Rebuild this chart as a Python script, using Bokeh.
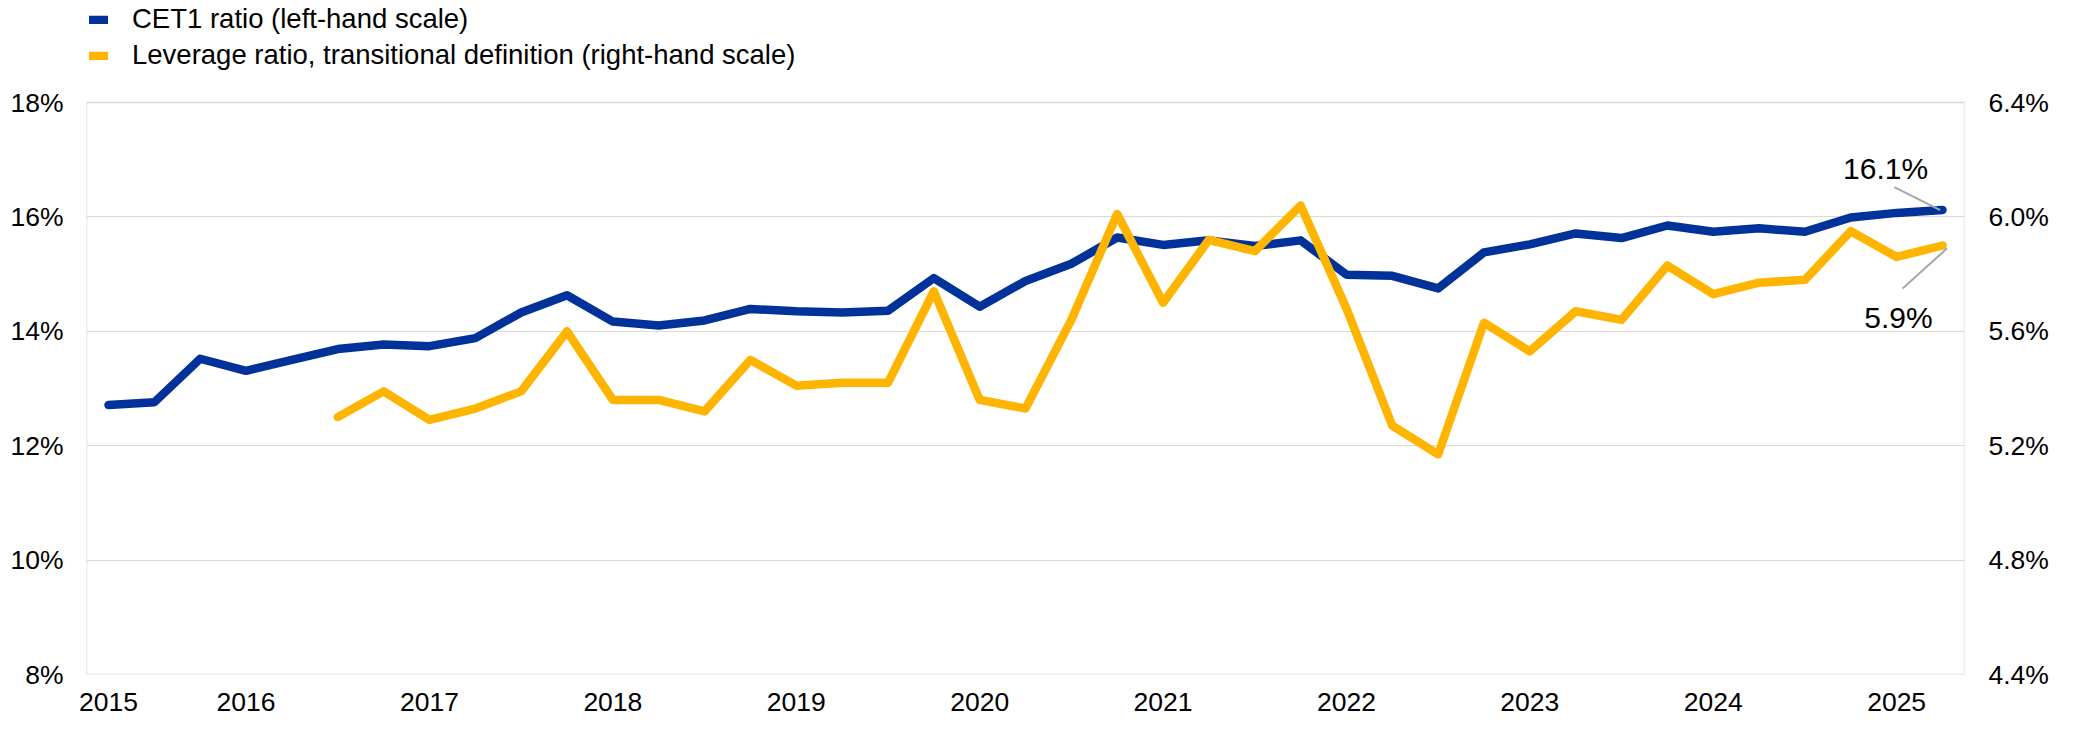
import math
from bokeh.plotting import figure
from bokeh.models import (Range1d, LinearAxis, FixedTicker, Legend, LegendItem,
                          Label, ColumnDataSource)
from bokeh.embed import file_html
from bokeh.resources import INLINE

# ---------------- data ----------------
# quarterly observations, 2015-Q2 ... 2025-Q2
quarters = [f"{2015 + (m // 4)}-Q{m % 4 + 1}" for m in range(1, 42)]

cet1_ratio = [12.71, 12.76, 13.52, 13.31, 13.50, 13.69, 13.77, 13.74, 13.88, 14.33,
              14.63, 14.17, 14.10, 14.19, 14.39, 14.35, 14.33, 14.36, 14.93, 14.43,
              14.88, 15.18, 15.64, 15.51, 15.59, 15.49, 15.59, 14.99, 14.97, 14.75,
              15.38, 15.52, 15.71, 15.63, 15.85, 15.74, 15.80, 15.74, 15.99, 16.07,
              16.12]

nan = float("nan")
leverage_ratio = [nan, nan, nan, nan, nan, 5.30, 5.39, 5.29, 5.33, 5.39,
                  5.60, 5.36, 5.36, 5.32, 5.50, 5.41, 5.42, 5.42, 5.74, 5.36,
                  5.33, 5.64, 6.01, 5.70, 5.92, 5.88, 6.04, 5.68, 5.27, 5.17,
                  5.63, 5.53, 5.67, 5.64, 5.83, 5.73, 5.77, 5.78, 5.95, 5.86,
                  5.90]

year_labels = ["2015", "2016", "2017", "2018", "2019", "2020", "2021", "2022",
               "2023", "2024", "2025"]
left_ticks = [8, 10, 12, 14, 16, 18]
left_tick_labels = ["8%", "10%", "12%", "14%", "16%", "18%"]
right_ticks = [4.4, 4.8, 5.2, 5.6, 6.0, 6.4]
right_tick_labels = ["4.4%", "4.8%", "5.2%", "5.6%", "6.0%", "6.4%"]

series_names = ["CET1 ratio (left-hand scale)",
                "Leverage ratio, transitional definition (right-hand scale)"]

# ---------------- styles / layout ----------------
BLUE = "#003299"
YELLOW = "#FFB400"
GRID = "#D9D9D9"
FONT = "Liberation Sans"

BOX_H = 572         # height of the value box in px
LEGEND_SPACE = 102  # px above the box reserved for the legend (inside the frame)

x = list(range(len(quarters)))
src = ColumnDataSource(dict(x=x, cet1=cet1_ratio, lev=leverage_ratio))

# x tick positions: first observation, then each first quarter of a year
tick_pos = []
for lab in year_labels:
    if lab == year_labels[0]:
        tick_pos.append(0)
    else:
        tick_pos.append(quarters.index(f"{lab}-Q1"))

y0, y1 = left_ticks[0], left_ticks[-1]
r0, r1 = right_ticks[0], right_ticks[-1]
extra = LEGEND_SPACE / (BOX_H / (y1 - y0))          # left-scale units above box
extra_r = extra * (r1 - r0) / (y1 - y0)

x_lo, x_hi = -0.48, len(quarters) - 1 + 0.48

p = figure(frame_width=1878, frame_height=BOX_H + LEGEND_SPACE,
           x_range=Range1d(x_lo, x_hi),
           y_range=Range1d(y0, y1 + extra),
           output_backend="svg", toolbar_location=None,
           min_border_left=86, min_border_right=99,
           min_border_top=0, min_border_bottom=43,
           background_fill_color="white", border_fill_color="white",
           outline_line_color=None)
p.extra_y_ranges = {"right": Range1d(r0, r1 + extra_r)}

# axes
xa = p.xaxis[0]
xa.ticker = FixedTicker(ticks=tick_pos)
xa.major_label_overrides = {t: l for t, l in zip(tick_pos, year_labels)}
ya = p.yaxis[0]
ya.ticker = FixedTicker(ticks=left_ticks)
ya.major_label_overrides = {t: l for t, l in zip(left_ticks, left_tick_labels)}
ra = LinearAxis(y_range_name="right", ticker=FixedTicker(ticks=right_ticks))
ra.major_label_overrides = {t: l for t, l in zip(right_ticks, right_tick_labels)}
p.add_layout(ra, "right")

for ax, standoff in ((xa, 18), (ya, 23), (ra, 24)):
    ax.axis_line_color = None
    ax.major_tick_line_color = None
    ax.minor_tick_line_color = None
    ax.major_tick_out = 0
    ax.major_tick_in = 0
    ax.minor_tick_out = 0
    ax.major_label_standoff = standoff
    ax.major_label_text_font = FONT
    ax.major_label_text_font_size = "26.5px"
    ax.major_label_text_color = "black"

p.xgrid.visible = False
p.ygrid.ticker = FixedTicker(ticks=left_ticks[1:-1])
p.ygrid.grid_line_color = GRID
p.ygrid.grid_line_width = 1.2

# box around the value area (derived from the axis extents)
p.segment(x0=[x_lo, x_lo, x_lo, x_hi], y0=[y0, y1, y0, y0],
          x1=[x_hi, x_hi, x_lo, x_hi], y1=[y0, y1, y1, y1],
          line_color=GRID, line_width=1.5)

# lines
l1 = p.line("x", "cet1", source=src, line_color=BLUE, line_width=8.5,
            line_join="round", line_cap="round")
l2 = p.line("x", "lev", source=src, y_range_name="right", line_color=YELLOW,
            line_width=8.5, line_join="round", line_cap="round")

# end-of-series annotations
last = len(quarters) - 1
c_last = cet1_ratio[-1]
l_last = leverage_ratio[-1]
p.segment(x0=[last - 0.05], y0=[c_last], x1=[last - 1.05], y1=[c_last + 0.40],
          line_color="#A6A6A6", line_width=2)
p.segment(x0=[last + 0.1], y0=[l_last - 0.01], x1=[last - 0.87], y1=[l_last - 0.15],
          y_range_name="right", line_color="#A6A6A6", line_width=2)
p.add_layout(Label(x=last - 1.24, y=c_last + 0.72, text=f"{c_last:.1f}%",
                   text_align="center", text_baseline="middle",
                   text_font=FONT, text_font_size="30px", text_color="black"))
p.add_layout(Label(x=last - 0.96, y=l_last - 0.25, y_range_name="right",
                   text=f"{l_last:.1f}%", text_align="center", text_baseline="middle",
                   text_font=FONT, text_font_size="30px", text_color="black"))

legend = Legend(items=[LegendItem(label=series_names[0], renderers=[l1]),
                       LegendItem(label=series_names[1], renderers=[l2])],
                location="top_left", orientation="vertical",
                padding=0, margin=3, spacing=4,
                glyph_width=19, glyph_height=9, label_standoff=24,
                label_text_font=FONT, label_text_font_size="27.5px",
                label_text_color="black",
                border_line_color=None, background_fill_alpha=0)
p.add_layout(legend)

open("out.html", "w").write(file_html(p, INLINE))
